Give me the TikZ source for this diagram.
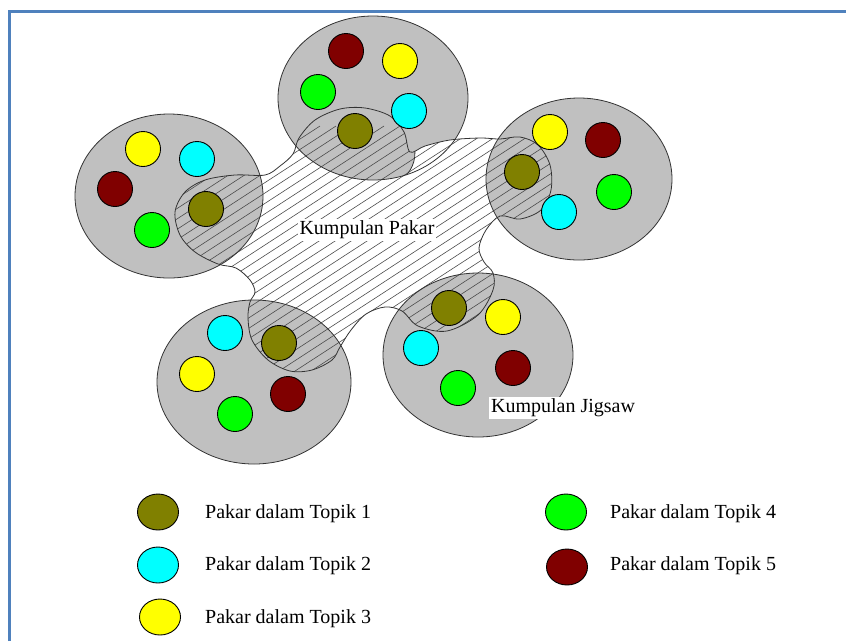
\documentclass[tikz,border=0pt]{standalone}
\usepackage{fontspec}
\setmainfont{Liberation Serif}
\usetikzlibrary{shapes.geometric}
\pgfdeclarelayer{grouplayer}
\pgfdeclarelayer{hatchlayer}
\pgfsetlayers{grouplayer,hatchlayer,main}
\definecolor{frameblue}{HTML}{4F81BD}
\definecolor{groupgray}{HTML}{C0C0C0}
\definecolor{topik1}{HTML}{808000}
\definecolor{topik2}{HTML}{00FFFF}
\definecolor{topik3}{HTML}{FFFF00}
\definecolor{topik4}{HTML}{00FF00}
\definecolor{topik5}{HTML}{800000}
\tikzstyle{expert}=[circle,draw=black,line width=0.9pt,minimum size=35pt,inner sep=0pt]
\tikzstyle{key}=[ellipse,draw=black,line width=0.9pt,minimum width=41pt,minimum height=36pt,inner sep=0pt]
\tikzstyle{keytext}=[anchor=base west,inner sep=0pt,font=\fontsize{20}{24}\selectfont]
\tikzstyle{groupname}=[fill=white,inner sep=2pt,font=\fontsize{20}{24}\selectfont]
\tikzstyle{rim}=[draw=black!80,line width=0.8pt]
\tikzstyle{hatch}=[draw=black!70,line width=0.6pt]
\tikzstyle{frame}=[draw=frameblue,line width=3pt]
% outline of the expert group, lobes included
\newcommand{\pakarblob}{plot [smooth cycle, tension=0.55] coordinates {
	(175,212) (185,192) (205,180) (235,175) (265,175) (280,166) (293,154)
	(299,138) (315,120) (340,109) (365,108) (390,116) (404,132) (410,152)
	(425,146) (450,140) (480,138) (500,139) (520,137) (538,145) (550,165)
	(551,190) (541,210) (520,219) (500,216) (486,230) (479,248) (484,262)
	(493,273) (493,290) (478,315) (447,331) (418,326) (402,311) (385,307)
	(366,314) (351,330) (340,347) (332,360) (312,370) (290,371) (268,360)
	(252,340) (248,318) (250,302) (255,292) (250,280) (236,268) (218,264)
	(195,252) (180,235)}}
\newcommand{\atas}{(373,98) ellipse [x radius=95pt, y radius=82pt]}
\newcommand{\kiri}{(169,196) ellipse [x radius=94pt, y radius=82pt]}
\newcommand{\kanan}{(579,179) ellipse [x radius=93pt, y radius=81pt]}
\newcommand{\bawahkiri}{(254,382) ellipse [x radius=97pt, y radius=82pt]}
\newcommand{\bawahkanan}{(478,355) ellipse [x radius=95pt, y radius=82pt]}

\begin{document}
\begin{tikzpicture}[x=1pt,y=-1pt]
	\useasboundingbox (0,0) rectangle (846,641);
	\draw [style=frame] (9,641) -- (9,11) -- (846,11);
	\begin{pgfonlayer}{grouplayer}
		\fill [groupgray] \atas;
		\fill [groupgray] \kiri;
		\fill [groupgray] \kanan;
		\fill [groupgray] \bawahkiri;
		\fill [groupgray] \bawahkanan;
	\end{pgfonlayer}
	\begin{pgfonlayer}{hatchlayer}
		\fill [white] \pakarblob;
		\begin{scope}
			\clip \pakarblob;
			\fill [groupgray] \kiri;
			\fill [groupgray] \kanan;
			\fill [groupgray] \bawahkiri;
			\fill [groupgray] \bawahkanan;
			\clip [rotate around={-15:(352,145)}] (352,145) ellipse [x radius=64pt, y radius=45pt];
			\fill [groupgray] \atas;
		\end{scope}
		\begin{scope}
			\clip \pakarblob;
			\foreach \c in {-600,-584,...,320}
				\draw [style=hatch] (\c,620) -- ++(760,-494);
		\end{scope}
		\begin{scope}
			\clip \atas;
			\clip \pakarblob;
			\draw [style=rim, rotate around={-15:(352,145)}] (352,145) ellipse [x radius=64pt, y radius=45pt];
		\end{scope}
		\draw [style=rim] \pakarblob;
		\draw [style=rim] \atas;
		\draw [style=rim] \kiri;
		\draw [style=rim] \kanan;
		\draw [style=rim] \bawahkiri;
		\draw [style=rim] \bawahkanan;
	\end{pgfonlayer}
	% top group
	\node [style=expert, fill=topik5] (atas5) at (346,51) {};
	\node [style=expert, fill=topik3] (atas3) at (400,61) {};
	\node [style=expert, fill=topik4] (atas4) at (318,92) {};
	\node [style=expert, fill=topik2] (atas2) at (409,111) {};
	\node [style=expert, fill=topik1] (atas1) at (355,131) {};
	% left group
	\node [style=expert, fill=topik3] (kiri3) at (143,149) {};
	\node [style=expert, fill=topik2] (kiri2) at (197,159) {};
	\node [style=expert, fill=topik5] (kiri5) at (115,189) {};
	\node [style=expert, fill=topik4] (kiri4) at (152,230) {};
	\node [style=expert, fill=topik1] (kiri1) at (206,209) {};
	% right group
	\node [style=expert, fill=topik3] (kanan3) at (550,132) {};
	\node [style=expert, fill=topik5] (kanan5) at (603,140) {};
	\node [style=expert, fill=topik4] (kanan4) at (614,192) {};
	\node [style=expert, fill=topik2] (kanan2) at (559,212) {};
	\node [style=expert, fill=topik1] (kanan1) at (522,172) {};
	% bottom left group
	\node [style=expert, fill=topik2] (bawahkiri2) at (225,333) {};
	\node [style=expert, fill=topik1] (bawahkiri1) at (279,343) {};
	\node [style=expert, fill=topik3] (bawahkiri3) at (197,374) {};
	\node [style=expert, fill=topik5] (bawahkiri5) at (288,394) {};
	\node [style=expert, fill=topik4] (bawahkiri4) at (235,414) {};
	% bottom right group
	\node [style=expert, fill=topik1] (bawahkanan1) at (449,308) {};
	\node [style=expert, fill=topik3] (bawahkanan3) at (503,317) {};
	\node [style=expert, fill=topik2] (bawahkanan2) at (421,348) {};
	\node [style=expert, fill=topik5] (bawahkanan5) at (513,368) {};
	\node [style=expert, fill=topik4] (bawahkanan4) at (458,388) {};
	\node [style=groupname] (pakar) at (367,230) {Kumpulan Pakar};
	\node [style=groupname] (jigsaw) at (563,408) {Kumpulan Jigsaw};
	% legend
	\node [style=key, fill=topik1] (key1) at (158,512) {};
	\node [style=key, fill=topik2] (key2) at (158,565) {};
	\node [style=key, fill=topik3] (key3) at (160,617) {};
	\node [style=key, fill=topik4] (key4) at (566,512) {};
	\node [style=key, fill=topik5] (key5) at (567,567) {};
	\node [style=keytext] (text1) at (205,518) {Pakar dalam Topik 1};
	\node [style=keytext] (text2) at (205,570) {Pakar dalam Topik 2};
	\node [style=keytext] (text3) at (205,623) {Pakar dalam Topik 3};
	\node [style=keytext] (text4) at (610,518) {Pakar dalam Topik 4};
	\node [style=keytext] (text5) at (610,570) {Pakar dalam Topik 5};
\end{tikzpicture}
\end{document}
